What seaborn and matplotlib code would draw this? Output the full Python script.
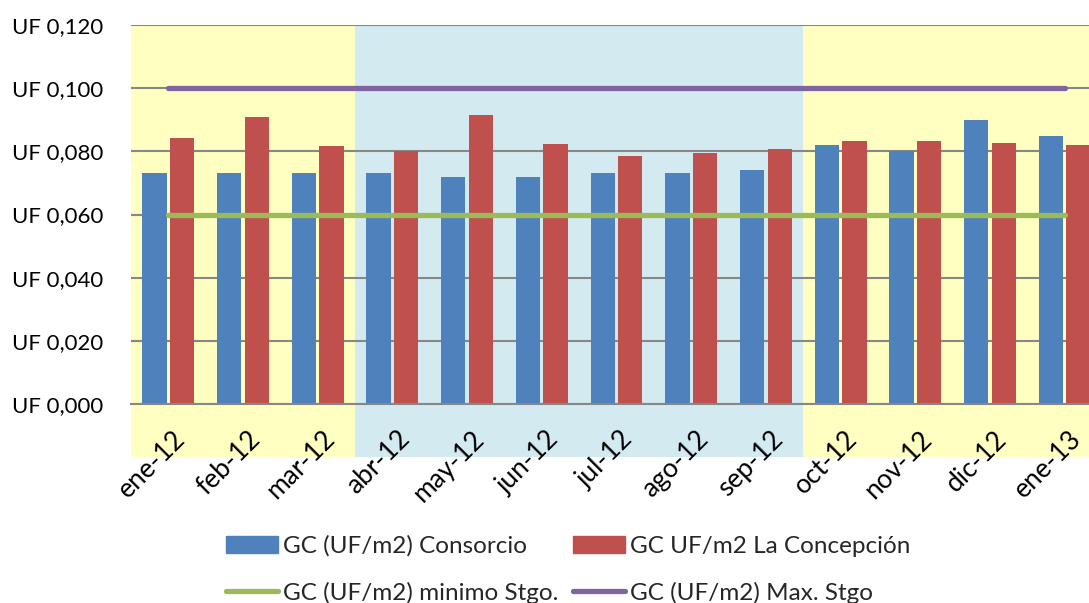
import matplotlib
matplotlib.use("Agg")
import matplotlib.pyplot as plt
from matplotlib.patches import Rectangle
from matplotlib.lines import Line2D
from matplotlib.ticker import FuncFormatter
from matplotlib.transforms import ScaledTranslation
import seaborn as sns
import pandas as pd

meses = ["ene-12", "feb-12", "mar-12", "abr-12", "may-12", "jun-12", "jul-12",
         "ago-12", "sep-12", "oct-12", "nov-12", "dic-12", "ene-13"]
consorcio = [0.073, 0.073, 0.073, 0.073, 0.072, 0.072, 0.073,
             0.073, 0.074, 0.082, 0.080, 0.090, 0.085]
la_concepcion = [0.0841, 0.0908, 0.0817, 0.0800, 0.0915, 0.0823, 0.0784,
                 0.0796, 0.0806, 0.0832, 0.0832, 0.0827, 0.0821]
minimo_stgo = [0.060] * 13
max_stgo = [0.100] * 13

series = ["GC (UF/m2) Consorcio", "GC UF/m2 La Concepción"]
lineas = ["GC (UF/m2) minimo Stgo.", "GC (UF/m2) Max. Stgo"]

AZUL, ROJO, VERDE, MORADO = "#4F81BD", "#C0504D", "#9BBB59", "#8064A2"
AMARILLO, CELESTE = "#FFFFC1", "#D4EAF1"
GRIS = "#878787"

df = pd.DataFrame({
    "mes": meses * 2,
    "valor": consorcio + la_concepcion,
    "serie": [series[0]] * len(meses) + [series[1]] * len(meses),
})

sns.set_theme(style="white")
plt.rcParams["font.family"] = ["Lato", "DejaVu Sans"]

fig = plt.figure(figsize=(10.89, 6.03), dpi=100)
ax = fig.add_axes([131 / 1089, 1 - 404 / 603, (1102 - 131) / 1089, (404 - 25) / 603])

# background bands by period (extend below the axis into the label area)
y_low = -0.0168
for x0, x1, c in [(-0.5, 2.5, AMARILLO), (2.5, 8.5, CELESTE), (8.5, 12.5, AMARILLO)]:
    ax.add_patch(Rectangle((x0, y_low), x1 - x0, 0.12 - y_low, facecolor=c,
                           edgecolor="none", clip_on=False, zorder=0))

sns.barplot(data=df, x="mes", y="valor", hue="serie", palette=[AZUL, ROJO],
            saturation=1, width=0.74, gap=0.12, ax=ax, legend=False, zorder=2,
            edgecolor="none")

xs = list(range(len(meses)))
ax.plot(xs, minimo_stgo, color=VERDE, lw=3.8, solid_capstyle="round", zorder=3)
ax.plot(xs, max_stgo, color=MORADO, lw=3.8, solid_capstyle="round", zorder=3)

ax.set_xlim(-0.5, 12.5)
ax.set_ylim(0, 0.12)
ax.set_yticks([0, 0.02, 0.04, 0.06, 0.08, 0.10, 0.12])
ax.yaxis.set_major_formatter(FuncFormatter(lambda v, p: "UF " + f"{v:.3f}".replace(".", ",")))
ax.grid(axis="y", color=GRIS, lw=1.5)
ax.set_axisbelow(True)
ax.set_xlabel("")
ax.set_ylabel("")
for s in ["left", "right", "top"]:
    ax.spines[s].set_visible(False)
ax.spines["bottom"].set_color(GRIS)
ax.spines["bottom"].set_linewidth(1.5)
ax.spines["bottom"].set_zorder(4)
ax.tick_params(axis="both", length=0, colors="black")
ax.tick_params(axis="y", labelsize=16, pad=20)
ax.tick_params(axis="x", labelsize=19, pad=16)
shift = ScaledTranslation(3 / 72, 0, fig.dpi_scale_trans)
for lbl in ax.get_xticklabels():
    lbl.set_rotation(45)
    lbl.set_ha("right")
    lbl.set_va("top")
    lbl.set_rotation_mode("anchor")
    lbl.set_transform(lbl.get_transform() + shift)

handles = [
    Rectangle((0, 0), 1, 1, color=AZUL),
    Line2D([0], [0], color=VERDE, lw=3.8, solid_capstyle="round"),
    Rectangle((0, 0), 1, 1, color=ROJO),
    Line2D([0], [0], color=MORADO, lw=3.8, solid_capstyle="round"),
]
labels = [series[0], lineas[0], series[1], lineas[1]]
fig.legend(handles, labels, ncol=2, loc="upper left",
           bbox_to_anchor=(226 / 1089, 1 - 535 / 603), frameon=False,
           fontsize=17.5, handlelength=2.15, handletextpad=0.2,
           columnspacing=0.6, labelspacing=1.03, borderaxespad=0, borderpad=0)

fig.savefig("out.png", dpi=100)
